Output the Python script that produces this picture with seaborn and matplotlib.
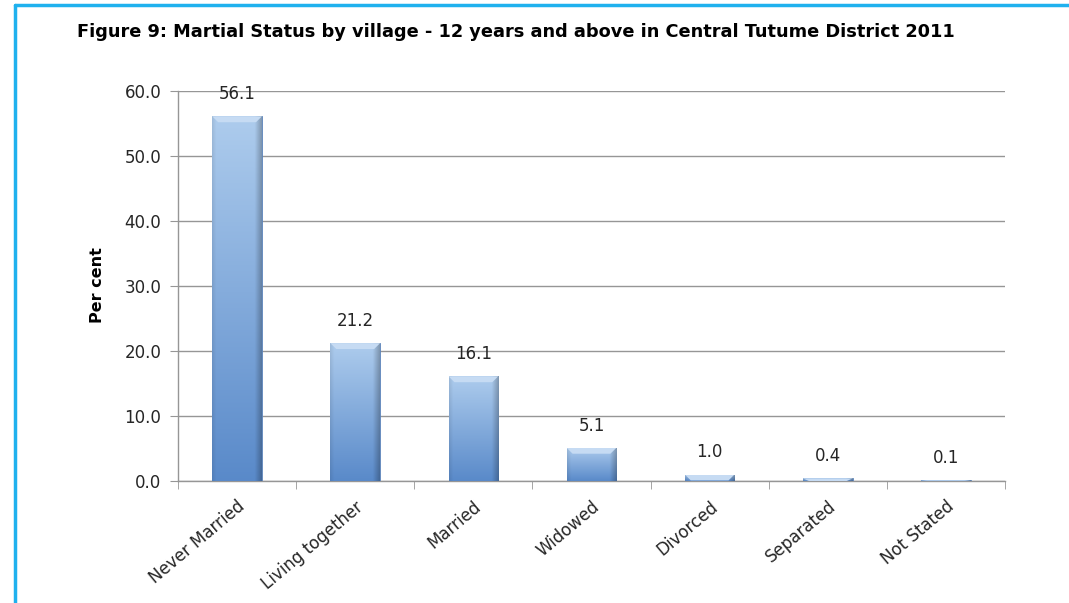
import matplotlib.pyplot as plt
import seaborn as sns
import numpy as np
from matplotlib.lines import Line2D
from matplotlib.patches import Polygon

# data
categories = ['Never Married', 'Living together', 'Married', 'Widowed',
              'Divorced', 'Separated', 'Not Stated']
values = [56.1, 21.2, 16.1, 5.1, 1.0, 0.4, 0.1]
y_ticks = [0, 10, 20, 30, 40, 50, 60]
title = 'Figure 9: Martial Status by village - 12 years and above in Central Tutume District 2011'

sns.set_style('white')
plt.rcParams['font.family'] = ['DejaVu Sans']

fig = plt.figure(figsize=(10.69, 6.03), dpi=100)
ax = fig.add_axes([178 / 1069, 1 - 481 / 603, 827 / 1069, 390 / 603])

sns.barplot(x=categories, y=values, width=0.42, color='#7ea6dc',
            saturation=1, ax=ax, zorder=3)

# gradient fill for bars (light top, darker bottom, shaded edges)
top_c = np.array([0.68, 0.80, 0.93])
bot_c = np.array([0.35, 0.54, 0.79])
for p in ax.patches:
    x0, y0 = p.get_x(), p.get_y()
    w, h = p.get_width(), p.get_height()
    if h <= 0:
        continue
    t = np.linspace(0, 1, 120)[:, None, None]
    col = top_c * (1 - t) + bot_c * t
    xs = np.linspace(0, 1, 60)
    shade = 1 - 0.25 * np.clip((xs - 0.86) / 0.14, 0, 1) - 0.08 * np.clip((0.08 - xs) / 0.08, 0, 1)
    img = np.clip(col * shade[None, :, None], 0, 1)
    im = ax.imshow(img, extent=[x0, x0 + w, y0, y0 + h], origin='upper',
                   aspect='auto', zorder=3.5)
    im.set_clip_path(p)
    # top bevel
    bh = min(0.9, h)
    d = 0.05
    bev = Polygon([[x0, y0 + h], [x0 + w, y0 + h], [x0 + w - d, y0 + h - bh],
                   [x0 + d, y0 + h - bh]], closed=True, color='#c6dbf3', zorder=3.6, lw=0)
    ax.add_patch(bev)
    bev.set_clip_path(p)
    p.set_edgecolor('#5b82b8')
    p.set_linewidth(0.6)

for i, v in enumerate(values):
    ax.annotate(f'{v:.1f}', (i, v), xytext=(0, 16), textcoords='offset points',
                ha='center', va='center', fontsize=12, color='#262626', zorder=5)

ax.set_xlim(-0.5, len(categories) - 0.5)
ax.set_ylim(0, 60)
ax.set_yticks(y_ticks)
ax.set_yticklabels([f'{v:.1f}' for v in y_ticks], fontsize=12, color='#262626')
ax.yaxis.grid(True, color='#969696', lw=1)
ax.set_axisbelow(True)

ax.set_xticks(range(len(categories)))
ax.set_xticklabels(categories, rotation=40, ha='right', rotation_mode='anchor',
                   fontsize=12, color='#262626')
ax.set_xticks(np.arange(-0.5, len(categories), 1), minor=True)
ax.tick_params(axis='x', which='major', length=0, pad=12)
ax.tick_params(axis='x', which='minor', length=6, color='#969696', direction='out', bottom=True)
ax.tick_params(axis='y', length=6, color='#969696', direction='out', left=True, pad=6)

for s in ['top', 'right']:
    ax.spines[s].set_visible(False)
for s in ['left', 'bottom']:
    ax.spines[s].set_color('#969696')
    ax.spines[s].set_linewidth(1)

ax.set_ylabel('Per cent', fontweight='bold', fontsize=11.5, color='black')
ax.yaxis.set_label_coords((105 - 178) / 827, 0.503)
ax.set_xlabel('')

fig.text(77 / 1069, 1 - 32 / 603, title, fontweight='bold', fontsize=12.8,
         va='center', ha='left', color='black')

# cyan frame
fig.add_artist(Line2D([15 / 1069, 1], [1 - 5 / 603] * 2, transform=fig.transFigure,
                      color='#1fb1ee', lw=2.5))
fig.add_artist(Line2D([15 / 1069] * 2, [0, 1 - 5 / 603], transform=fig.transFigure,
                      color='#1fb1ee', lw=2.5))

fig.savefig('out.png', dpi=100)
